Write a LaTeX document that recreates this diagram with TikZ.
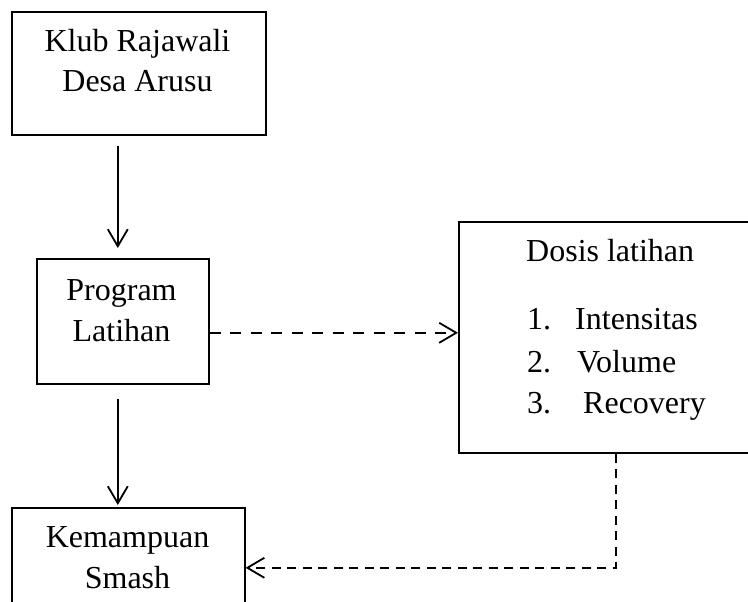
\documentclass[tikz,border=0pt]{standalone}
\usepackage{fontspec}
\setmainfont{Liberation Serif}
\usetikzlibrary{arrows.meta,calc}
\begin{document}
\begin{tikzpicture}[x=1pt,y=-1pt,
  box/.style={draw, line width=1.6pt, inner sep=0pt, anchor=north west},
  txt/.style={inner sep=0pt, font=\fontsize{32}{38}\selectfont},
  tipshape/.style={-{Straight Barb[length=17pt,width=20pt,line width=1.8pt]}},
  conn/.style={line width=1.7pt, tipshape},
  dconnA/.style={line width=1.9pt, tipshape, dash pattern=on 11pt off 9.5pt},
  dconnB/.style={line width=1.8pt, tipshape, dash pattern=on 9pt off 6.5pt},
  ]
\useasboundingbox (0,0) rectangle (748,602);
\fill[white] (0,0) rectangle (748,602);
\clip (0,0) rectangle (748,602);
% boxes
\node[box, minimum width=254pt, minimum height=123pt] (klub) at (11,11) {};
\node[box, minimum width=172pt, minimum height=125pt] (prog) at (36,258) {};
\node[box, minimum width=233pt, minimum height=120pt] (kemam) at (11,507) {};
\node[box, minimum width=310pt, minimum height=231pt] (dosis) at (458,221) {};
% texts
\node[txt, anchor=base] (k1) at (137.5,52) {Klub Rajawali};
\node[txt, anchor=base] (k2) at (137.5,92) {Desa Arusu};
\node[txt, anchor=base] (p1) at (121.5,300) {Program};
\node[txt, anchor=base] (p2) at (121.5,341) {Latihan};
\node[txt, anchor=base] (m1) at (127.5,547) {Kemampuan};
\node[txt, anchor=base] (m2) at (127.5,588) {Smash};
\node[txt, anchor=base west] (d0) at (526,261) {Dosis latihan};
\node[txt, anchor=base west] (n1) at (527,329) {1.};
\node[txt, anchor=base west] (i1) at (575,329) {Intensitas};
\node[txt, anchor=base west] (n2) at (527,372) {2.};
\node[txt, anchor=base west] (i2) at (577,372) {Volume};
\node[txt, anchor=base west] (n3) at (527,413) {3.};
\node[txt, anchor=base west] (i3) at (583,413) {Recovery};
% connectors
\draw[conn] ($(klub.south)+(-21,10)$) -- ($(prog.north)+(-5,-10)$);
\draw[conn] ($(prog.south)+(-5,14)$) -- ($(kemam.north)+(-10.5,-2)$);
\coordinate (s1) at ($(prog.east)+(0,11.5)$);
\draw[dconnA] (s1) -- (s1 -| dosis.west);
\draw[dconnB] ($(dosis.south)+(2,0)$) |- (kemam.east);
\end{tikzpicture}
\end{document}
